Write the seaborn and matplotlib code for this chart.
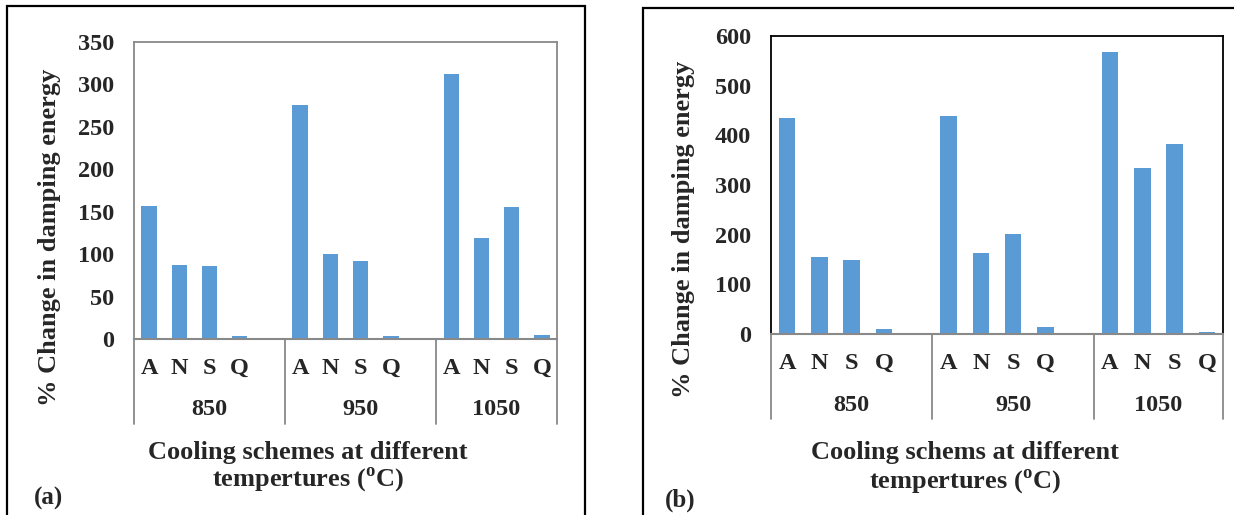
import numpy as np
import pandas as pd
import matplotlib.pyplot as plt
import matplotlib.transforms as mtransforms
from matplotlib.patches import Rectangle
import seaborn as sns

# Data
temps = ['850', '950', '1050']
schemes = ['A', 'N', 'S', 'Q']
a_850 = [157, 87, 86, 3]
a_950 = [276, 100, 92, 4]
a_1050 = [312, 119, 155, 5]
b_850 = [434, 155, 148, 11]
b_950 = [439, 163, 202, 15]
b_1050 = [568, 335, 383, 5]

sns.set_style('white')
plt.rcParams['font.family'] = ['Liberation Serif', 'DejaVu Serif']
plt.rcParams['font.weight'] = 'bold'
plt.rcParams['mathtext.fontset'] = 'custom'
plt.rcParams['mathtext.rm'] = 'Liberation Serif:bold'
plt.rcParams['mathtext.bf'] = 'Liberation Serif:bold'

BAR = '#5B9BD5'
GREY = '#898989'
W, H = 1234, 515
TICK_FS = 17.5
LABEL_FS = 19


def make_frame(groups):
    rows = []
    for t, vals in zip(temps, groups):
        for s, v in zip(schemes, vals):
            rows.append({'slot': f'{t}-{s}', 'value': v})
    return pd.DataFrame(rows)


# slot order: each temperature group gets an empty slot after it, except the last
order = []
for i, t in enumerate(temps):
    order += [f'{t}-{s}' for s in schemes]
    if i < len(temps) - 1:
        order.append(f'{t}-gap')
tick_labels = ['' if o.endswith('gap') else o.split('-')[1] for o in order]


def px_axes(fig, left, top, right, bottom):
    return fig.add_axes([left / W, 1 - bottom / H, (right - left) / W, (bottom - top) / H])


def draw_panel(ax, df, ymax, step, frame_color):
    sns.barplot(data=df, x='slot', y='value', order=order, color=BAR,
                saturation=1, width=0.51, linewidth=0, ax=ax)
    ax.set_xlim(-0.5, len(order) - 0.5)
    ax.set_ylim(0, ymax)
    ax.set_yticks(np.arange(0, ymax + 1, step))
    ax.set_xticks(range(len(order)))
    ax.set_xticklabels(tick_labels, va='center')
    ax.tick_params(axis='both', length=0, labelsize=TICK_FS)
    ax.tick_params(axis='y', pad=14.4)
    ax.tick_params(axis='x', pad=20.9)
    ax.set_xlabel('')
    ax.set_ylabel('')
    for side in ['top', 'left', 'right']:
        ax.spines[side].set_color(frame_color)
        ax.spines[side].set_linewidth(1.3)
    ax.spines['bottom'].set_color(GREY)
    ax.spines['bottom'].set_linewidth(1.5)

    # second level of the category axis
    trans = mtransforms.blended_transform_factory(ax.transData, ax.transAxes)
    bounds = [-0.5] + [order.index(f'{t}-gap') + 0.5 for t in temps[:-1]] + [len(order) - 0.5]
    for b in bounds:
        ax.plot([b, b], [0, -0.286], transform=trans, color=GREY, lw=1.3, clip_on=False)
    for t, l, r in zip(temps, bounds[:-1], bounds[1:]):
        ax.text((l + r) / 2, -0.239, t, transform=trans, ha='center', va='center', fontsize=TICK_FS)


fig = plt.figure(figsize=(W / 100, H / 100), dpi=100)

# outer panel frames
fig.patches.append(Rectangle((7 / W, -0.05), 578 / W, 1.05 - 6 / H, transform=fig.transFigure,
                             fill=False, edgecolor='black', lw=1.6))
fig.patches.append(Rectangle((643 / W, -0.05), 600 / W, 1.05 - 8 / H, transform=fig.transFigure,
                             fill=False, edgecolor='black', lw=1.6))

ax1 = px_axes(fig, 134, 42, 557, 339)
draw_panel(ax1, make_frame([a_850, a_950, a_1050]), 350, 50, GREY)
ax2 = px_axes(fig, 771, 36, 1223, 334)
draw_panel(ax2, make_frame([b_850, b_950, b_1050]), 600, 100, 'black')

ylab = '% Change in damping energy'
fig.text(50 / W, 1 - 237 / H, ylab, rotation=90, ha='center', va='center', fontsize=LABEL_FS)
fig.text(683 / W, 1 - 229 / H, ylab, rotation=90, ha='center', va='center', fontsize=LABEL_FS)

fig.text(308 / W, 1 - 452 / H, 'Cooling schemes at different', ha='center', va='center', fontsize=LABEL_FS)
fig.text(308 / W, 1 - 480 / H, r'tempertures ($^{\mathbf{o}}$C)', ha='center', va='center', fontsize=LABEL_FS)
fig.text(965 / W, 1 - 453 / H, 'Cooling schems at different', ha='center', va='center', fontsize=LABEL_FS)
fig.text(965 / W, 1 - 482 / H, r'tempertures ($^{\mathbf{o}}$C)', ha='center', va='center', fontsize=LABEL_FS)

fig.text(48 / W, 1 - 498 / H, '(a)', ha='center', va='center', fontsize=18)
fig.text(680 / W, 1 - 500 / H, '(b)', ha='center', va='center', fontsize=18)

plt.savefig('out.png', dpi=100)
